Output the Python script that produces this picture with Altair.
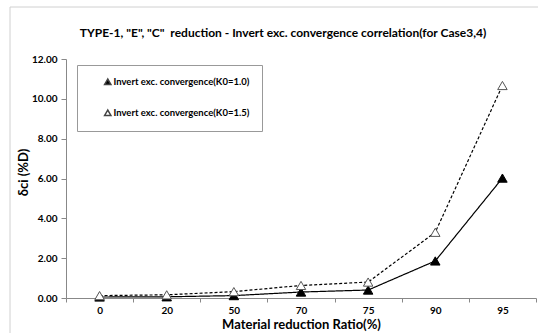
import altair as alt
import pandas as pd

ratio = ["0", "20", "50", "70", "75", "90", "95"]
k10 = [0.05, 0.06, 0.12, 0.30, 0.40, 1.86, 6.02]
k15 = [0.12, 0.16, 0.32, 0.63, 0.80, 3.30, 10.67]
series_names = ["Invert exc. convergence(K0=1.0)", "Invert exc. convergence(K0=1.5)"]
dash_names = ["solid", "dashed"]
title_text = 'TYPE-1, "E", "C" \u00a0reduction - Invert exc. convergence correlation(for Case3,4)'

rows = []
for r, a, b in zip(ratio, k10, k15):
    rows.append({"ratio": r, "value": a, "series": series_names[0], "dash": dash_names[0]})
    rows.append({"ratio": r, "value": b, "series": series_names[1], "dash": dash_names[1]})
df = pd.DataFrame(rows)
one = pd.DataFrame({"k": [0]})

FONT = "Lato"

x = alt.X("ratio:O", sort=ratio, bandPosition=0.5,
          scale=alt.Scale(type="band", paddingInner=0, paddingOuter=0),
          axis=alt.Axis(title="Material reduction Ratio(%)", labelAngle=0, tickBand="extent",
                        domainColor="#888888", tickColor="#888888", tickSize=4,
                        labelFont=FONT, labelFontSize=10, labelFontWeight="bold", labelColor="#000",
                        labelPadding=3, titleFont=FONT, titleFontSize=13, titleFontWeight="bold",
                        titleColor="#000", titleBaseline="alphabetic", titleY=30))
y = alt.Y("value:Q", scale=alt.Scale(domain=[0, 12], nice=False),
          axis=alt.Axis(title="δci (%D)", values=[0, 2, 4, 6, 8, 10, 12], format=".2f", grid=False,
                        domainColor="#888888", tickColor="#888888", tickSize=5,
                        labelFont=FONT, labelFontSize=10, labelFontWeight="bold", labelColor="#000",
                        labelPadding=4, titleFont=FONT, titleFontSize=13, titleFontWeight="bold",
                        titleColor="#000", titleX=-36, titleY=113))

frame_left = alt.Chart(one).mark_rule(color="#d0d0d0", strokeWidth=1).encode(
    x=alt.value(-56), y=alt.value(-52), y2=alt.value(280))
frame_top = alt.Chart(one).mark_rule(color="#d0d0d0", strokeWidth=1).encode(
    x=alt.value(-56), x2=alt.value(480), y=alt.value(-52))

title = alt.Chart(one).mark_text(font=FONT, fontSize=12, fontWeight="bold", color="#000",
                                 align="center", baseline="alphabetic").encode(
    x=alt.value(217), y=alt.value(-22), text=alt.value(title_text))

lines = alt.Chart(df).mark_line(color="black", strokeWidth=1.2).encode(
    x=x, y=y,
    strokeDash=alt.StrokeDash("dash:N",
                              scale=alt.Scale(domain=dash_names, range=[[1, 0], [3, 2]]),
                              legend=None))

points = alt.Chart(df).mark_point(shape="triangle-up", size=90, filled=True, strokeWidth=1,
                                  opacity=1).encode(
    x=x, y=y,
    stroke=alt.Stroke("dash:N", scale=alt.Scale(domain=dash_names, range=["black", "#555555"]),
                      legend=None),
    fill=alt.Fill("series:N", scale=alt.Scale(domain=series_names, range=["black", "white"]),
                  legend=alt.Legend(title=None, orient="none", legendX=11, legendY=6,
                                    symbolType="triangle-up", symbolSize=40, symbolOpacity=1,
                                    symbolStrokeColor="#444444", symbolOffset=14,
                                    labelFont=FONT, labelFontSize=9.5, labelFontWeight="bold",
                                    labelColor="#000", labelLimit=300, rowPadding=19,
                                    labelOffset=1,
                                    padding=12, strokeColor="#999999", fillColor="white")))

chart = alt.layer(frame_left, frame_top, title, lines, points).properties(
    width=470, height=239,
    autosize=alt.AutoSizeParams(type="none"),
    padding={"left": 66, "top": 59, "right": 2, "bottom": 35},
).configure_view(stroke=None)

chart.save("out.html", embed_options={"renderer": "svg", "actions": False})
